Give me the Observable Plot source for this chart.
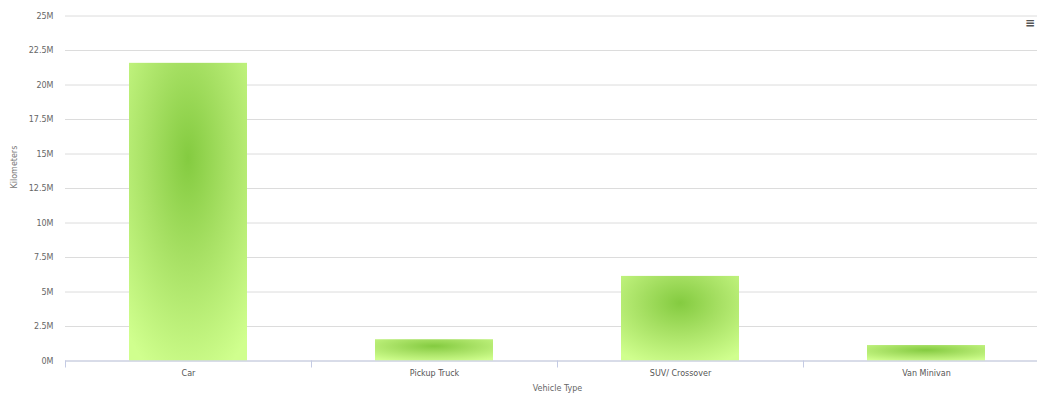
<!DOCTYPE html>
<html>
<head>
<meta charset="utf-8">
<script src="https://cdn.jsdelivr.net/npm/d3@7"></script>
<script src="https://cdn.jsdelivr.net/npm/@observablehq/plot@0.6"></script>
<style>
  html, body { margin: 0; padding: 0; background: #fff; overflow: hidden; }
  #wrap { position: relative; width: 1037px; height: 398px; overflow: hidden; }
  #menu { position: absolute; left: 1025px; top: 16px; font: bold 12px "DejaVu Sans"; color: #555; }
</style>
</head>
<body>
<div id="wrap"><div id="menu">≡</div></div>
<script>
const categories = ["Car", "Pickup Truck", "SUV/ Crossover", "Van Minivan"];
const kilometers = [21570000, 1540000, 6130000, 1120000];
const yTicks = [0, 2500000, 5000000, 7500000, 10000000, 12500000, 15000000, 17500000, 20000000, 22500000, 25000000];
const xTitle = "Vehicle Type";
const yTitle = "Kilometers";

const data = categories.map((c, i) => ({type: c, km: kilometers[i]}));

const W = 1037, H = 398, ML = 65, MR = -12;
const step = (W - MR - ML) / categories.length;
const fmt = d => (d / 1e6) + "M";

const chart = Plot.plot({
  width: W,
  height: H,
  marginLeft: ML,
  marginRight: MR,
  marginTop: 15.5,
  marginBottom: 37.5,
  style: {fontFamily: "DejaVu Sans", fontSize: "8px", color: "#666", background: "#fff", overflow: "hidden"},
  x: {domain: categories, paddingInner: 0.52, paddingOuter: 0.26},
  y: {domain: [0, 25000000]},
  marks: [
    Plot.gridY(yTicks, {stroke: "#dcdcdc", strokeOpacity: 1}),
    Plot.barY(data, {x: "type", y: "km", fill: "url(#barGrad)"}),
    Plot.ruleY([0], {stroke: "#c4cbe4", strokeWidth: 1}),
    Plot.axisY({ticks: yTicks, tickFormat: fmt, tickSize: 0, tickPadding: 12, label: null, fill: "#666"}),
    Plot.axisX({tickSize: 7, dx: -step / 2, tickFormat: () => "", label: null, stroke: "#c4cbe4"}),
    Plot.axisX({tickSize: 0, tickPadding: 9, label: null, fill: "#555"}),
    Plot.text([xTitle], {frameAnchor: "bottom", dy: 30, fill: "#666", fontSize: 8}),
    Plot.text([yTitle], {frameAnchor: "left", dx: -51, rotate: -90, fill: "#777", fontSize: 8})
  ]
});

const svg = d3.select(chart);
const defs = svg.insert("defs", ":first-child");
const g = defs.append("radialGradient")
  .attr("id", "barGrad")
  .attr("cx", 0.5).attr("cy", 0.32).attr("r", 0.78);
g.append("stop").attr("offset", "0%").attr("stop-color", "#84cb40");
g.append("stop").attr("offset", "45%").attr("stop-color", "#a8e165");
g.append("stop").attr("offset", "100%").attr("stop-color", "#d0ff8e");

document.getElementById("wrap").prepend(chart);
</script>
</body>
</html>
